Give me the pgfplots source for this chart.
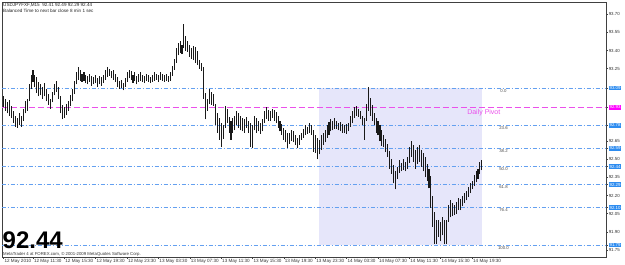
\documentclass[border=0pt]{standalone}
\usepackage{pgfplots}
\pgfplotsset{compat=1.18}
\usepackage{pgfplotstable}
\usepackage{fontspec}
\setmainfont{Liberation Sans}
\definecolor{fibblue}{RGB}{100,160,240}
\definecolor{boxblue}{RGB}{45,140,240}
\definecolor{pivot}{RGB}{235,80,235}
\definecolor{pivbox}{RGB}{255,0,255}
\definecolor{lav}{RGB}{230,230,250}
\newcommand{\bb}[1]{{\setlength{\fboxsep}{0.8pt}\colorbox{boxblue}{\textcolor{white}{#1}}}}
\newcommand{\pb}[1]{{\setlength{\fboxsep}{0.8pt}\colorbox{pivbox}{\textcolor{white}{#1}}}}

\pgfplotstableread{
k h l
0 93.02 92.93
1 93.00 92.90
2 92.97 92.88
3 92.99 92.86
4 92.94 92.84
5 92.90 92.80
6 92.86 92.77
7 92.84 92.76
8 92.88 92.78
9 92.86 92.77
10 92.92 92.82
11 92.98 92.88
12 93.00 92.90
13 93.12 92.98
14 93.20 93.08
15 93.24 93.14
16 93.20 93.10
17 93.18 93.05
18 93.14 93.02
19 93.12 93.03
20 93.10 93.00
21 93.13 93.02
22 93.08 92.98
23 93.04 92.95
24 93.00 92.92
25 93.06 92.97
26 93.12 93.03
27 93.15 93.06
28 93.10 93.00
29 93.02 92.88
30 92.95 92.83
31 92.93 92.84
32 92.96 92.87
33 92.98 92.90
34 93.03 92.94
35 93.08 92.98
36 93.15 93.04
37 93.22 93.12
38 93.26 93.16
39 93.24 93.15
40 93.21 93.14
41 93.22 93.15
42 93.20 93.13
43 93.19 93.12
44 93.21 93.14
45 93.19 93.11
46 93.18 93.12
47 93.20 93.13
48 93.17 93.10
49 93.19 93.12
50 93.18 93.11
51 93.20 93.13
52 93.24 93.16
53 93.26 93.18
54 93.25 93.19
55 93.23 93.17
56 93.24 93.16
57 93.21 93.14
58 93.18 93.10
59 93.15 93.08
60 93.16 93.09
61 93.13 93.07
62 93.17 93.10
63 93.22 93.14
64 93.24 93.17
65 93.23 93.16
66 93.20 93.13
67 93.22 93.15
68 93.19 93.12
69 93.21 93.14
70 93.22 93.15
71 93.20 93.14
72 93.19 93.13
73 93.21 93.15
74 93.20 93.14
75 93.18 93.13
76 93.20 93.14
77 93.22 93.15
78 93.21 93.16
79 93.20 93.14
80 93.22 93.16
81 93.21 93.15
82 93.20 93.14
83 93.21 93.15
84 93.19 93.14
85 93.22 93.15
86 93.27 93.19
87 93.33 93.24
88 93.42 93.30
89 93.46 93.36
90 93.48 93.38
91 93.45 93.37
92 93.62 93.42
93 93.52 93.40
94 93.48 93.39
95 93.45 93.35
96 93.42 93.33
97 93.44 93.32
98 93.43 93.30
99 93.40 93.28
100 93.32 93.25
101 93.30 93.23
102 93.26 93.00
103 93.05 92.83
104 93.00 92.90
105 93.08 92.96
106 93.06 92.95
107 93.04 92.94
108 92.96 92.78
109 92.88 92.72
110 92.84 92.66
111 92.80 92.60
112 92.78 92.67
113 92.94 92.76
114 92.92 92.80
115 92.85 92.72
116 92.82 92.66
117 92.84 92.72
118 92.86 92.74
119 92.90 92.78
120 92.88 92.76
121 92.86 92.74
122 92.84 92.73
123 92.83 92.72
124 92.85 92.76
125 92.82 92.72
126 92.80 92.60
127 92.78 92.59
128 92.86 92.74
129 92.84 92.72
130 92.82 92.73
131 92.80 92.71
132 92.83 92.73
133 92.90 92.80
134 92.93 92.83
135 92.91 92.82
136 92.90 92.82
137 92.92 92.84
138 92.91 92.82
139 92.89 92.80
140 92.86 92.76
141 92.82 92.73
142 92.79 92.70
143 92.76 92.66
144 92.74 92.64
145 92.72 92.59
146 92.72 92.63
147 92.74 92.65
148 92.73 92.64
149 92.70 92.62
150 92.68 92.59
151 92.70 92.62
152 92.72 92.66
153 92.75 92.68
154 92.78 92.70
155 92.77 92.71
156 92.80 92.72
157 92.78 92.70
158 92.74 92.56
159 92.70 92.55
160 92.68 92.50
161 92.66 92.54
162 92.70 92.58
163 92.72 92.62
164 92.74 92.64
165 92.78 92.68
166 92.81 92.70
167 92.83 92.73
168 92.82 92.74
169 92.84 92.75
170 92.82 92.75
171 92.80 92.74
172 92.81 92.73
173 92.79 92.72
174 92.78 92.72
175 92.79 92.71
176 92.80 92.73
177 92.86 92.77
178 92.90 92.80
179 92.93 92.84
180 92.94 92.86
181 92.92 92.85
182 92.90 92.83
183 92.86 92.78
184 92.84 92.66
185 92.96 92.82
186 93.10 92.90
187 93.01 92.86
188 92.95 92.82
189 92.88 92.78
190 92.84 92.72
191 92.82 92.70
192 92.78 92.65
193 92.74 92.61
194 92.70 92.60
195 92.67 92.56
196 92.63 92.52
197 92.57 92.42
198 92.50 92.38
199 92.45 92.30
200 92.40 92.25
201 92.44 92.34
202 92.49 92.39
203 92.47 92.40
204 92.50 92.41
205 92.48 92.40
206 92.52 92.42
207 92.60 92.47
208 92.65 92.52
209 92.62 92.48
210 92.58 92.42
211 92.60 92.46
212 92.62 92.48
213 92.58 92.44
214 92.55 92.40
215 92.52 92.35
216 92.46 92.32
217 92.42 92.26
218 92.36 92.10
219 92.20 91.94
220 92.06 91.80
221 92.00 91.80
222 92.00 91.86
223 91.98 91.82
224 92.02 91.87
225 92.00 91.80
226 92.00 91.80
227 92.12 91.98
228 92.16 92.02
229 92.14 92.03
230 92.12 92.04
231 92.15 92.05
232 92.18 92.08
233 92.17 92.08
234 92.20 92.11
235 92.22 92.14
236 92.24 92.16
237 92.27 92.19
238 92.30 92.22
239 92.32 92.25
240 92.37 92.28
241 92.40 92.31
242 92.42 92.34
243 92.48 92.38
244 92.49 92.41
}\bars

\begin{document}
\begin{tikzpicture}
\useasboundingbox[fill=white] (-2pt,-8pt) rectangle (623pt,257pt);
\begin{axis}[
  at={(0pt,0pt)}, anchor=south west,
  scale only axis, width=604pt, height=255pt,
  xmin=-0.82, xmax=307.3, ymin=91.691, ymax=93.802,
  axis line style={draw=black!75, line width=0.7pt},
  tick style={draw=black!75, line width=0.5pt},
  major tick length=2pt,
  ytick pos=right, yticklabel pos=right, ytick align=outside,
  xtick pos=bottom, xtick align=outside,
  /pgf/number format/assume math mode=true,
  /pgf/number format/fixed, /pgf/number format/fixed zerofill,
  /pgf/number format/precision=2,
  ytick={91.75,91.90,92.05,92.20,92.35,92.50,92.65,93.25,93.40,93.55,93.70},
  extra y ticks={93.09,92.93,92.78,92.59,92.44,92.29,92.10,91.79},
  extra y tick labels={\bb{93.09},\pb{92.93},\bb{92.78},\bb{92.59},\bb{92.44},\bb{92.29},\bb{92.10},\bb{91.79}},
  yticklabel style={font=\fontsize{4.4}{5}\selectfont, text=black!80, inner sep=0.6pt, anchor=west},
  xtick={0,15,31,47,63,79,95,111,127,143,159,175,191,207,223,239},
  xticklabels={12 May 2010,12 May 11:30,12 May 15:30,12 May 19:30,12 May 23:30,13 May 03:30,13 May 07:30,13 May 11:30,13 May 15:30,13 May 19:30,13 May 23:30,14 May 03:30,14 May 07:30,14 May 11:30,14 May 15:30,14 May 19:30},
  xticklabel style={font=\fontsize{4.6}{5}\selectfont, text=black!80, anchor=north west, inner sep=0.5pt, xshift=0.3pt},
]
% Fibonacci zone
\addplot[draw=none, fill=lav] coordinates {(161,93.09) (244,93.09) (244,91.79) (161,91.79)} -- cycle;
% Fibonacci levels
\addplot[fibblue, line width=0.8pt, dash pattern=on 4pt off 2pt on 1pt off 2pt] coordinates {(-1,93.09) (308,93.09)};
\addplot[fibblue, line width=0.8pt, dash pattern=on 4pt off 2pt on 1pt off 2pt] coordinates {(-1,92.78) (308,92.78)};
\addplot[fibblue, line width=0.8pt, dash pattern=on 4pt off 2pt on 1pt off 2pt] coordinates {(-1,92.59) (308,92.59)};
\addplot[fibblue, line width=0.8pt, dash pattern=on 4pt off 2pt on 1pt off 2pt] coordinates {(-1,92.44) (308,92.44)};
\addplot[fibblue, line width=0.8pt, dash pattern=on 4pt off 2pt on 1pt off 2pt] coordinates {(-1,92.29) (308,92.29)};
\addplot[fibblue, line width=0.8pt, dash pattern=on 4pt off 2pt on 1pt off 2pt] coordinates {(-1,92.10) (308,92.10)};
\addplot[fibblue, line width=0.8pt, dash pattern=on 4pt off 2pt on 1pt off 2pt] coordinates {(-1,91.79) (308,91.79)};
% Daily pivot
\addplot[pivot, line width=0.8pt, dash pattern=on 6pt off 3pt] coordinates {(-1,92.93) (308,92.93)};
% Fib percentages
\addplot[draw=none, nodes near coords, point meta=explicit symbolic,
  nodes near coords style={anchor=north, font=\fontsize{4.3}{5}\selectfont, text=black!70, inner sep=0.9pt}]
  table[meta=lab] {
x y lab
255 93.09 0.0
255 92.78 23.6
255 92.59 38.2
255 92.44 50.0
255 92.29 61.8
255 92.10 76.4
255 91.79 100.0
};
% Candles (high-low)
\addplot[black!90, line width=1.05pt, mark=none,
  quiver={u=0, v=\thisrow{h}-\thisrow{l}}]
  table[x=k, y=l] {\bars};
\node[anchor=north east, text=pivot, font=\fontsize{7}{8}\selectfont, inner sep=0pt] at (axis cs:253.5,92.918) {Daily Pivot};
\node[anchor=north west, align=left, inner sep=0pt, text=black!85, font=\fontsize{4.6}{5.2}\selectfont, xshift=1pt, yshift=-1.5pt] at (rel axis cs:0,1) {USDJPYFXF,M15\ \ 92.41 92.49 92.29 92.44\\Balanced Time to next bar close 8 min 1 sec};
\node[anchor=base west, inner sep=0pt, font=\bfseries\fontsize{24}{24}\selectfont, xshift=0.5pt, yshift=8.8pt] at (rel axis cs:0,0) {92.44};
\node[anchor=base west, inner sep=0pt, text=black!80, font=\fontsize{4.3}{5}\selectfont, xshift=1pt, yshift=1.5pt] at (rel axis cs:0,0) {MetaTrader 4 at FOREX.com, © 2001-2009 MetaQuotes Software Corp.};
\end{axis}
\end{tikzpicture}
\end{document}
